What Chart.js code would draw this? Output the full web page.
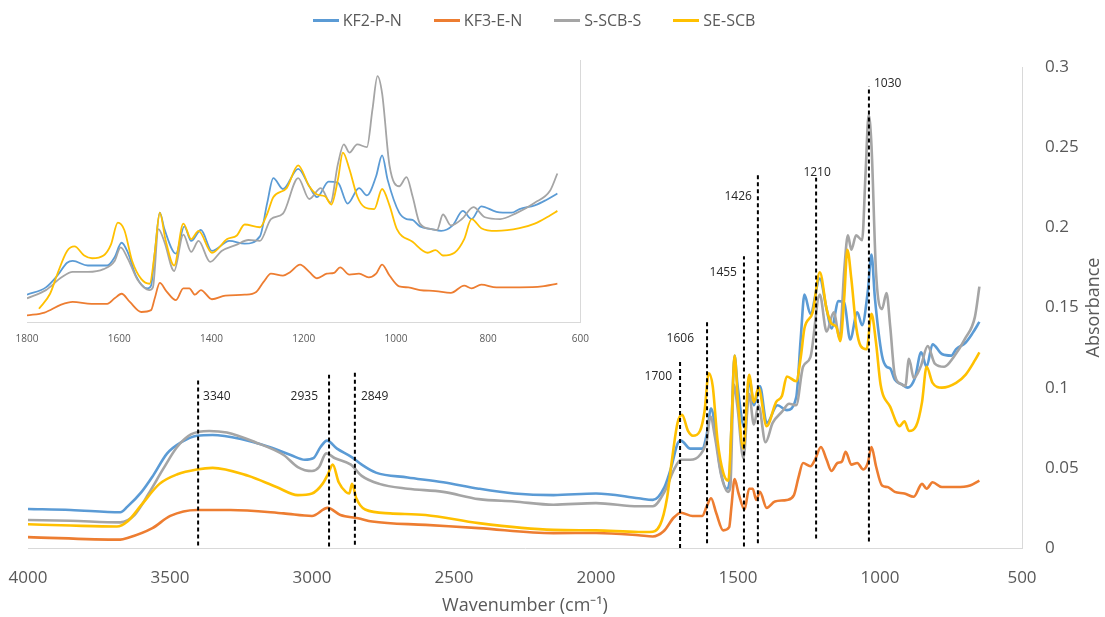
<!DOCTYPE html>
<html>
<head>
<meta charset="utf-8">
<script src="https://cdn.jsdelivr.net/npm/chart.js@4.4.1/dist/chart.umd.min.js"></script>
<style>
html,body{margin:0;padding:0;background:#fff;}
#wrap{position:relative;width:1105px;height:617px;overflow:hidden;}
#main{position:absolute;left:0;top:0;}
#inset{position:absolute;left:0;top:50px;}
#legend{position:absolute;top:9px;left:0;width:1068px;display:flex;justify-content:center;font:16px 'Open Sans',sans-serif;color:#595959;line-height:22px;}
.item{display:flex;align-items:center;margin:0 16px;}
.swatch{width:26px;height:3px;margin-right:4px;}
</style>
</head>
<body>
<div id="wrap">
  <canvas id="main" width="1105" height="617"></canvas>
  <canvas id="inset" width="600" height="310"></canvas>
  <div id="legend"></div>
</div>
<script>
// ---------- data ----------
const seriesNames = ['KF2-P-N', 'KF3-E-N', 'S-SCB-S', 'SE-SCB'];

const wnKF2 = [4000,3850,3675,3650,3600,3560,3510,3460,3405,3350,3250,3150,3075,3025,2995,2970,2947,2912,2863,2825,2775,2663,2538,2413,2288,2150,2000,1850,1800,1759,1734,1713,1701,1668,1626,1610,1595,1581,1564,1539,1531,1523,1512,1502,1477,1459,1444,1423,1399,1361,1328,1295,1279,1266,1245,1212,1188,1171,1146,1126,1105,1080,1063,1043,1030,1018,993,977,964,948,923,902,877,855,836,815,782,749,732,699,674,650];
const absKF2 = [0.0243,0.0237,0.0223,0.0258,0.035,0.045,0.059,0.066,0.070,0.0705,0.068,0.063,0.058,0.055,0.056,0.063,0.067,0.062,0.057,0.052,0.047,0.044,0.041,0.037,0.034,0.033,0.034,0.031,0.030,0.038,0.051,0.065,0.067,0.062,0.062,0.071,0.087,0.076,0.051,0.037,0.040,0.076,0.120,0.102,0.075,0.105,0.089,0.101,0.078,0.089,0.086,0.094,0.131,0.158,0.146,0.168,0.149,0.137,0.154,0.153,0.130,0.147,0.139,0.160,0.183,0.156,0.120,0.113,0.112,0.105,0.102,0.100,0.106,0.122,0.113,0.127,0.121,0.120,0.124,0.128,0.134,0.141];

const wnKF3 = [4000,3675,3650,3562,3499,3406,3287,3100,3000,2945,2900,2838,2788,2600,2413,2150,2000,1850,1800,1762,1726,1701,1660,1626,1610,1595,1577,1552,1531,1523,1512,1498,1477,1461,1448,1436,1423,1399,1370,1328,1303,1287,1271,1245,1229,1208,1188,1171,1150,1134,1121,1101,1080,1059,1043,1030,1014,993,973,948,914,881,852,836,815,782,732,683,650];
const absKF3 = [0.0068,0.0052,0.0062,0.0124,0.020,0.0237,0.0237,0.0216,0.020,0.025,0.0206,0.0186,0.0165,0.0144,0.0124,0.0093,0.0094,0.0080,0.0072,0.0104,0.019,0.022,0.020,0.020,0.026,0.031,0.022,0.011,0.013,0.026,0.043,0.034,0.024,0.037,0.037,0.030,0.035,0.025,0.029,0.030,0.033,0.044,0.053,0.051,0.055,0.063,0.055,0.048,0.053,0.054,0.060,0.052,0.053,0.049,0.053,0.063,0.051,0.039,0.038,0.035,0.034,0.032,0.040,0.037,0.041,0.038,0.038,0.039,0.042];

const wnSSCB = [4000,3850,3675,3625,3575,3525,3475,3425,3362,3300,3200,3100,3050,3000,2975,2950,2919,2863,2825,2763,2663,2538,2413,2288,2150,2000,1850,1800,1759,1725,1701,1668,1634,1610,1597,1581,1560,1535,1527,1515,1502,1481,1461,1444,1428,1403,1378,1345,1320,1295,1271,1245,1212,1188,1163,1142,1126,1113,1101,1084,1063,1051,1040,1030,1014,993,977,964,948,923,911,898,881,857,832,807,774,741,699,666,650];
const absSSCB = [0.0175,0.017,0.016,0.0206,0.034,0.049,0.063,0.071,0.073,0.072,0.066,0.058,0.0505,0.048,0.0505,0.059,0.056,0.052,0.045,0.040,0.037,0.035,0.0305,0.029,0.027,0.028,0.026,0.026,0.035,0.049,0.055,0.055,0.058,0.067,0.082,0.069,0.046,0.035,0.038,0.102,0.088,0.056,0.096,0.077,0.089,0.066,0.078,0.085,0.090,0.089,0.113,0.119,0.158,0.135,0.147,0.131,0.173,0.195,0.186,0.195,0.192,0.233,0.270,0.251,0.172,0.149,0.159,0.138,0.108,0.102,0.101,0.118,0.106,0.113,0.126,0.115,0.113,0.119,0.131,0.144,0.163];

const wnSE = [4000,3850,3687,3650,3600,3537,3474,3406,3350,3225,3125,3050,3000,2963,2944,2927,2906,2881,2869,2859,2844,2813,2725,2600,2413,2150,2000,1850,1811,1774,1750,1734,1713,1697,1676,1659,1634,1618,1603,1589,1572,1552,1534,1523,1512,1500,1481,1461,1444,1428,1399,1366,1345,1328,1295,1279,1266,1237,1212,1188,1171,1154,1140,1126,1115,1101,1084,1068,1047,1030,1014,998,964,931,914,898,873,852,836,815,782,732,699,666,650];
const absSE = [0.0148,0.014,0.0134,0.0165,0.027,0.040,0.046,0.049,0.050,0.045,0.038,0.033,0.034,0.040,0.046,0.052,0.041,0.035,0.034,0.040,0.031,0.024,0.0216,0.0206,0.0155,0.0113,0.011,0.010,0.010,0.0146,0.031,0.053,0.078,0.083,0.073,0.070,0.073,0.085,0.109,0.101,0.067,0.047,0.042,0.076,0.120,0.091,0.062,0.108,0.091,0.100,0.076,0.091,0.095,0.107,0.104,0.119,0.137,0.147,0.172,0.149,0.140,0.138,0.129,0.156,0.186,0.168,0.138,0.126,0.124,0.146,0.128,0.102,0.088,0.076,0.079,0.073,0.076,0.091,0.113,0.103,0.100,0.103,0.108,0.117,0.122];

// dashed marker lines
const markerLabel  = ['3340','2935','2849','1700','1606','1455','1426','1210','1030'];
const markerWn     = [3401, 2940, 2849, 1704, 1609, 1479, 1430, 1225, 1039];
const markerTop    = [0.106, 0.108, 0.110, 0.116, 0.142, 0.182, 0.233, 0.231, 0.288];
const markerBottom = [0.0015, 0.001, 0.002, 0.0, 0.003, 0.001, 0.003, 0.006, 0.004];

// tick labels
const mainXTicks  = [4000, 3500, 3000, 2500, 2000, 1500, 1000, 500];
const mainYTicks  = [0, 0.05, 0.1, 0.15, 0.2, 0.25, 0.3];
const insetXTicks = [1800, 1600, 1400, 1200, 1000, 800, 600];

// ---------- styles ----------
const FONT = "'Open Sans', sans-serif";
const TXT = '#595959';
const AXIS = '#d9d9d9';
const colors = ['#5B9BD5', '#ED7D31', '#A5A5A5', '#FFC000'];
const labelLayout = [
  {align:'left',  dx: 5,  dy: 19},
  {align:'right', dx:-11, dy: 22},
  {align:'left',  dx: 6,  dy: 25},
  {align:'right', dx:-8,  dy: 15},
  {align:'right', dx:-13, dy: 18},
  {align:'right', dx:-7,  dy: 16},
  {align:'right', dx:-6,  dy: 22},
  {align:'center',dx: 1,  dy: -5},
  {align:'left',  dx: 5,  dy: -3}
];

const series = [[wnKF2, absKF2], [wnKF3, absKF3], [wnSSCB, absSSCB], [wnSE, absSE]];
function pts(wn, ab, lo, hi) {
  const out = [];
  const n = Math.min(wn.length, ab.length);
  for (let i = 0; i < n; i++) if (wn[i] >= lo && wn[i] <= hi) out.push({x: wn[i], y: ab[i]});
  return out;
}
function lineSets(lo, hi, width) {
  return series.map((s, i) => ({
    label: seriesNames[i],
    data: pts(s[0], s[1], lo, hi),
    borderColor: colors[i], backgroundColor: colors[i],
    borderWidth: width, pointRadius: 0, fill: false,
    cubicInterpolationMode: 'monotone', order: 4 - i
  }));
}

// ---------- main chart ----------
const mainSets = lineSets(0, 5000, 2.6);
markerWn.forEach((w, i) => mainSets.push({
  label: 'marker ' + markerLabel[i],
  data: [{x: w, y: markerBottom[i]}, {x: w, y: markerTop[i]}],
  borderColor: '#000', borderWidth: 2, borderDash: [4, 3],
  pointRadius: 0, fill: false, order: 0
}));

const markerTextPlugin = {
  id: 'markerText',
  afterDatasetsDraw(chart) {
    const {ctx, scales: {x, y}} = chart;
    ctx.save();
    ctx.font = "12px " + FONT;
    ctx.fillStyle = '#262626';
    ctx.textBaseline = 'middle';
    markerWn.forEach((w, i) => {
      const L = labelLayout[i];
      ctx.textAlign = L.align;
      ctx.fillText(markerLabel[i], x.getPixelForValue(w) + L.dx, y.getPixelForValue(markerTop[i]) + L.dy);
    });
    ctx.restore();
  }
};
const yTitlePlugin = {
  id: 'yTitle',
  afterDraw(chart) {
    const {ctx, chartArea} = chart;
    ctx.save();
    ctx.translate(1094, (chartArea.top + chartArea.bottom) / 2);
    ctx.rotate(-Math.PI / 2);
    ctx.font = "18px " + FONT;
    ctx.fillStyle = TXT;
    ctx.textAlign = 'center';
    ctx.textBaseline = 'middle';
    ctx.fillText('Absorbance', 0, 0);
    ctx.restore();
  }
};
const htmlLegendPlugin = {
  id: 'htmlLegend',
  afterUpdate(chart) {
    const box = document.getElementById('legend');
    box.innerHTML = '';
    chart.data.datasets.slice(0, 4).forEach(ds => {
      const it = document.createElement('div'); it.className = 'item';
      const sw = document.createElement('span'); sw.className = 'swatch'; sw.style.background = ds.borderColor;
      const tx = document.createElement('span'); tx.textContent = ds.label;
      it.appendChild(sw); it.appendChild(tx); box.appendChild(it);
    });
  }
};

new Chart(document.getElementById('main'), {
  type: 'line',
  data: {datasets: mainSets},
  options: {
    responsive: false, animation: false, devicePixelRatio: 1,
    layout: {padding: {top: 67, left: 28, right: 0, bottom: 0}},
    plugins: {legend: {display: false}, tooltip: {enabled: false}},
    scales: {
      x: {
        type: 'linear', reverse: true, min: 500, max: 4000,
        afterBuildTicks: s => { s.ticks = mainXTicks.map(v => ({value: v})); },
        ticks: {callback: v => String(v), font: {family: FONT, size: 17, lineHeight: 2.8}, color: TXT, padding: 6, maxRotation: 0, autoSkip: false},
        grid: {display: false, drawTicks: false},
        border: {display: true, color: AXIS, width: 1},
        title: {display: true, text: 'Wavenumber (cm\u207B\u00B9)', font: {family: FONT, size: 18}, color: TXT, padding: 0},
        afterFit: s => { s.height = 69; }
      },
      y: {
        type: 'linear', position: 'right', min: 0, max: 0.3,
        afterBuildTicks: s => { s.ticks = mainYTicks.map(v => ({value: v})); },
        ticks: {callback: v => String(+Number(v).toFixed(2)), font: {family: FONT, size: 17}, color: TXT, padding: 23},
        grid: {display: false, drawTicks: false},
        border: {display: true, color: AXIS, width: 1},
        afterFit: s => { s.width = 83; }
      }
    }
  },
  plugins: [markerTextPlugin, yTitlePlugin, htmlLegendPlugin]
});

// ---------- inset chart ----------
new Chart(document.getElementById('inset'), {
  type: 'line',
  data: {datasets: lineSets(600, 1800, 1.8)},
  options: {
    responsive: false, animation: false, devicePixelRatio: 1,
    layout: {padding: {top: 10, left: 27, right: 18, bottom: 0}},
    plugins: {legend: {display: false}, tooltip: {enabled: false}},
    scales: {
      x: {
        type: 'linear', reverse: true, min: 600, max: 1800,
        afterBuildTicks: s => { s.ticks = insetXTicks.map(v => ({value: v})); },
        ticks: {callback: v => String(v), font: {family: FONT, size: 10}, color: TXT, padding: 11, maxRotation: 0, autoSkip: false},
        grid: {display: false, drawTicks: false},
        border: {display: true, color: AXIS, width: 1},
        afterFit: s => { s.height = 38; }
      },
      y: {
        type: 'linear', position: 'right', min: 0, max: 0.2876,
        ticks: {display: false},
        grid: {display: false, drawTicks: false},
        border: {display: true, color: AXIS, width: 1},
        afterFit: s => { s.width = 0; }
      }
    }
  }
});
</script>
</body>
</html>
